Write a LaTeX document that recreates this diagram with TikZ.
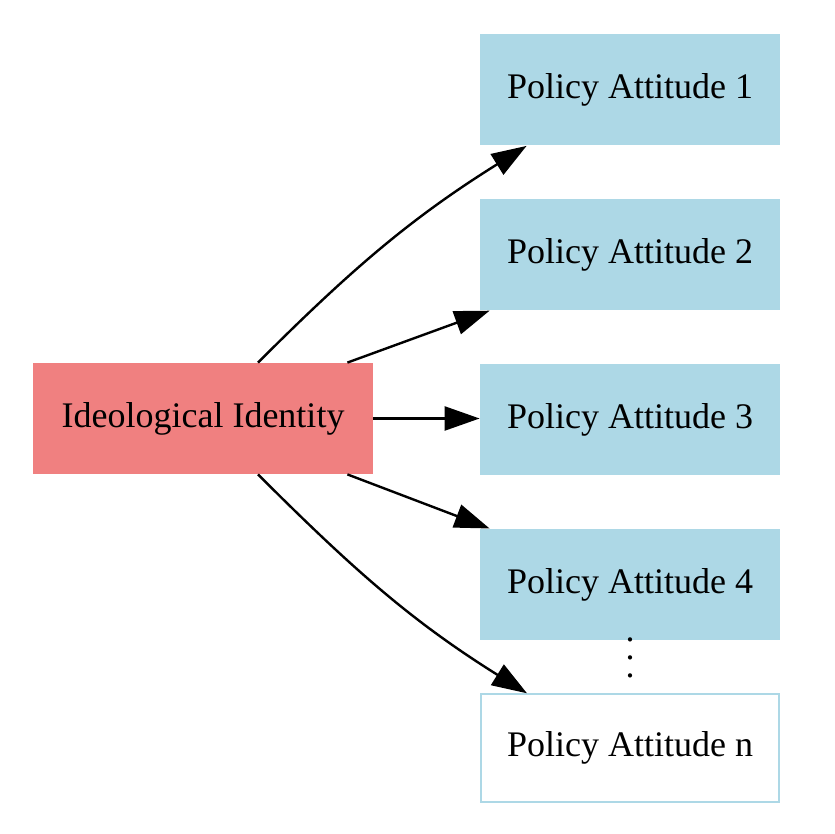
\documentclass[tikz,border=0pt]{standalone}
\usepackage{fontspec}
\setmainfont{Liberation Serif}
\usetikzlibrary{arrows.meta}
\usetikzlibrary{positioning}
\definecolor{lightcoral}{HTML}{F08080}
\definecolor{lightblue}{HTML}{ADD8E6}
\tikzset{
  identbox/.style={fill=lightcoral, minimum width=170pt, minimum height=55.5pt, inner sep=0pt},
  attbox/.style={fill=lightblue, minimum width=150pt, minimum height=55.5pt, inner sep=0pt},
  lastbox/.style={draw=lightblue, line width=1pt, fill=white, minimum width=149pt, minimum height=54pt, inner sep=0pt},
  dotmarks/.style={inner sep=0pt, align=center, font=\fontsize{18}{9}\selectfont},
  edge/.style={-{Triangle[length=17.5pt, width=12pt]}, line width=1.2pt},
}

\begin{document}
\begin{tikzpicture}[x=1pt, y=1pt, font=\fontsize{18}{22}\selectfont]
                    \useasboundingbox (0, 0) rectangle (417, 417);
                    \node[identbox](ident) at (101.5, 207.75){Ideological Identity};
                    \node[attbox](pa1) at (315, 372){Policy Attitude 1};
                    \node[attbox, below=26.5pt of pa1](pa2){Policy Attitude 2};
                    \node[attbox, below=26.5pt of pa2](pa3){Policy Attitude 3};
                    \node[attbox, below=26.5pt of pa3](pa4){Policy Attitude 4};
                    \node[lastbox, below=26.5pt of pa4](pan){Policy Attitude n};
                    % the dots between box 4 and box n
                    \node[dotmarks](dots) at (315, 88){.\\.\\.};
                    \draw[edge]([xshift=27.5pt]ident.north) to[out=45, in=212] ([xshift=23.5pt]pa1.south west);
                    \draw[edge]([xshift=-13pt]ident.north east)--([xshift=5pt]pa2.south west);
                    \draw[edge](ident.east)--(ident.east -| pa3.west);
                    \draw[edge]([xshift=-13pt]ident.south east)--([xshift=5pt]pa4.north west);
                    \draw[edge]([xshift=27.5pt]ident.south) to[out=-45, in=148] ([xshift=23.5pt]pan.north west);
                \end{tikzpicture}
\end{document}
